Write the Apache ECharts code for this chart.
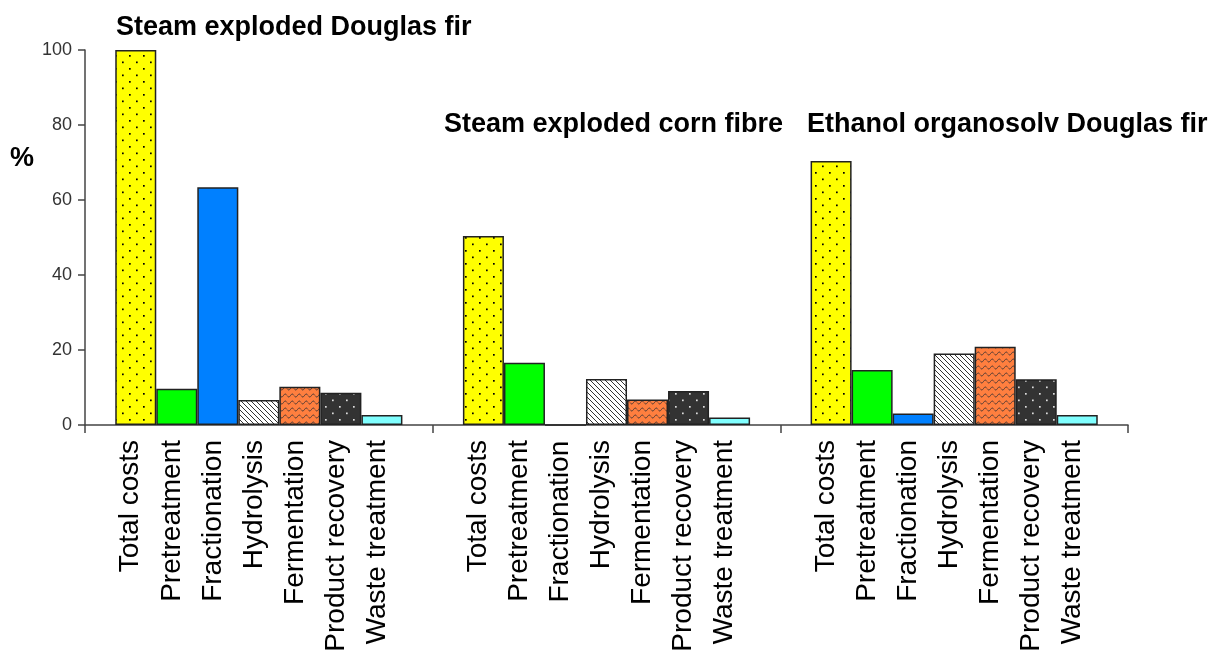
<!DOCTYPE html>
<html><head><meta charset="utf-8">
<script src="https://cdn.jsdelivr.net/npm/echarts@6/dist/echarts.min.js"></script>
<style>html,body{margin:0;padding:0;background:#fff}#c{width:1215px;height:659px}</style>
</head><body><div id="c"></div>
<script>
// ---- data ----
const groups = ['Steam exploded Douglas fir', 'Steam exploded corn fibre', 'Ethanol organosolv Douglas fir'];
const stages = ['Total costs', 'Pretreatment', 'Fractionation', 'Hydrolysis', 'Fermentation', 'Product recovery', 'Waste treatment'];
const totalCosts      = [100, 50.4, 70.4];
const pretreatment    = [9.7, 16.6, 14.7];
const fractionation   = [63.4, 0, 3.1];
const hydrolysis      = [6.7, 12.3, 19.1];
const fermentation    = [10.2, 6.8, 20.9];
const productRecovery = [8.6, 9.1, 12.2];
const wasteTreatment  = [2.7, 2.0, 2.7];
const yTicks = [0, 20, 40, 60, 80, 100];

const seriesValues = [totalCosts, pretreatment, fractionation, hydrolysis, fermentation, productRecovery, wasteTreatment];

const FONT = '"Liberation Sans", Arial, Helvetica, sans-serif';

// ---- patterns ----
function tile(w, h, draw) {
  const c = document.createElement('canvas');
  c.width = w; c.height = h;
  const g = c.getContext('2d');
  draw(g, w, h);
  return { image: c, repeat: 'repeat' };
}
function dots(bg, dot) {
  return tile(14, 13, (g, w, h) => {
    g.fillStyle = bg; g.fillRect(0, 0, w, h);
    g.fillStyle = dot;
    g.fillRect(3, 3, 1.7, 1.7);
    g.fillRect(10, 9.5, 1.7, 1.7);
  });
}
const hatch = tile(5, 5, (g, w, h) => {
  g.fillStyle = '#ffffff'; g.fillRect(0, 0, w, h);
  g.strokeStyle = '#333'; g.lineWidth = 1;
  g.beginPath();
  g.moveTo(-1, -1); g.lineTo(w + 1, h + 1);
  g.moveTo(-1, h - 1); g.lineTo(1, h + 1);
  g.moveTo(w - 1, -1); g.lineTo(w + 1, 1);
  g.stroke();
});
const wave = tile(7, 7, (g, w, h) => {
  g.fillStyle = '#ff7f3f'; g.fillRect(0, 0, w, h);
  g.strokeStyle = '#4a3a36'; g.lineWidth = 1;
  g.beginPath();
  for (let x = 0; x <= w; x += 0.5) {
    const y = 3.5 + 1.5 * Math.sin(2 * Math.PI * x / w);
    if (x === 0) g.moveTo(x, y); else g.lineTo(x, y);
  }
  g.stroke();
});
const fills = [
  dots('#ffff00', '#000000'),
  '#00ff00',
  '#0080ff',
  hatch,
  wave,
  dots('#333333', '#dddddd'),
  '#80ffff'
];

const chart = echarts.init(document.getElementById('c'), null, { renderer: 'canvas' });

const series = stages.map((name, i) => ({
  name: name,
  type: 'bar',
  data: seriesValues[i],
  barGap: '0%',
  barCategoryGap: '17.4%',
  itemStyle: { color: fills[i], borderColor: '#222', borderWidth: 1.5 },
  label: {
    show: true,
    position: 'bottom',
    distance: 15,
    rotate: 90,
    align: 'right',
    verticalAlign: 'middle',
    offset: [0, -5],
    formatter: name,
    fontFamily: FONT,
    fontSize: 28,
    color: '#000'
  },
  emphasis: { disabled: true },
  silent: true
}));

chart.setOption({
  animation: false,
  backgroundColor: '#ffffff',
  grid: { left: 85, right: 87, top: 50, bottom: 234, containLabel: false },
  xAxis: {
    type: 'category',
    data: groups,
    boundaryGap: true,
    axisLine: { show: true, lineStyle: { color: '#444', width: 1.5 } },
    axisTick: { show: true, length: 8, inside: false, lineStyle: { color: '#444', width: 1.5 } },
    axisLabel: { show: false },
    splitLine: { show: false }
  },
  yAxis: {
    type: 'value',
    min: yTicks[0],
    max: yTicks[yTicks.length - 1],
    interval: yTicks[1] - yTicks[0],
    axisLine: { show: true, lineStyle: { color: '#444', width: 1.5 } },
    axisTick: { show: true, length: 7, inside: false, lineStyle: { color: '#444', width: 1.5 } },
    axisLabel: { margin: 13, fontFamily: FONT, fontSize: 18, color: '#333' },
    splitLine: { show: false }
  },
  graphic: [
    { type: 'text', left: 116, top: 14, silent: true,
      style: { text: groups[0], font: 'bold 27px ' + FONT, fill: '#000' } },
    { type: 'text', left: 444, top: 111, silent: true,
      style: { text: groups[1], font: 'bold 27px ' + FONT, fill: '#000' } },
    { type: 'text', left: 807, top: 111, silent: true,
      style: { text: groups[2], font: 'bold 27px ' + FONT, fill: '#000' } },
    { type: 'text', left: 10, top: 145, silent: true,
      style: { text: '%', font: 'bold 27px ' + FONT, fill: '#000' } }
  ],
  series: series
});
</script>
</body></html>
